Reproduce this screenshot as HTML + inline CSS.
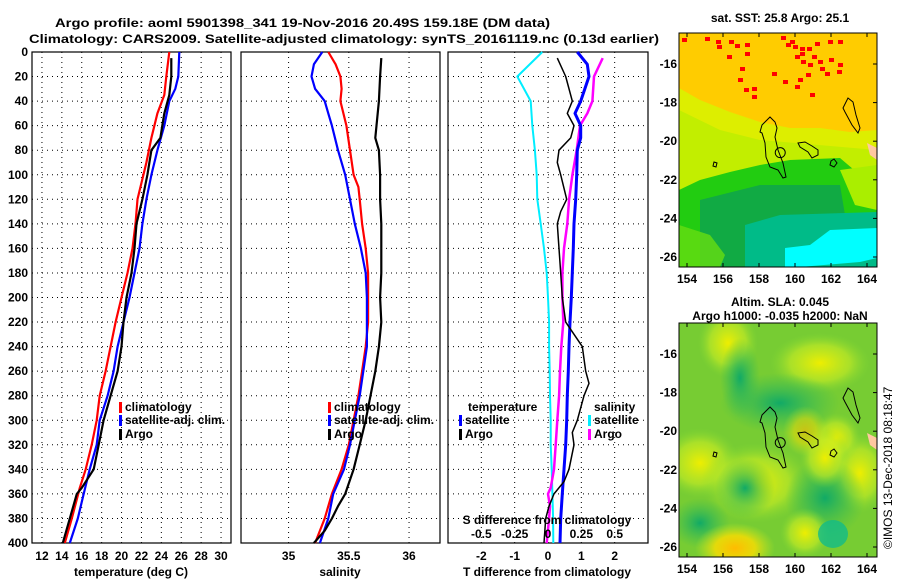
<!DOCTYPE html>
<html><head><meta charset="utf-8"><style>
body{margin:0;background:#fff;}
svg{display:block;font-family:"Liberation Sans",sans-serif;}
text{font-weight:bold;font-size:12px;fill:#000;}
</style></head><body>
<svg id="c" width="900" height="580" viewBox="0 0 900 580" xmlns="http://www.w3.org/2000/svg">
<text x="55" y="27" font-size="14" textLength="495" lengthAdjust="spacingAndGlyphs">Argo profile: aoml 5901398_341 19-Nov-2016 20.49S 159.18E (DM data)</text>
<text x="29" y="43" font-size="14" textLength="630" lengthAdjust="spacingAndGlyphs">Climatology: CARS2009. Satellite-adjusted climatology: synTS_20161119.nc (0.13d earlier)</text>
<g id="maps"></g>
<g id="plots"></g>
<text transform="translate(892,549) rotate(-90)" style="font-weight:normal" font-size="12">©IMOS 13-Dec-2018 08:18:47</text>
</svg>
<script>
// ---------- data ----------
const depthLevels=[0,20,40,60,80,100,120,140,160,180,200,220,240,260,280,300,320,340,360,380,400];
const tempTicks=[12,14,16,18,20,22,24,26,28,30];
const salTicks=[35,35.5,36];
const tdiffTicks=[-2,-1,0,1,2];
const sdiffTicks=[-0.5,-0.25,0,0.25,0.5];
const sdiffTickLabels=["-0.5","-0.25","0","0.25","0.5"];

const tArgoDepth=[5,20,35,50,60,70,80,100,120,140,160,180,200,220,240,260,280,300,320,340,355,360,380,400];
const tArgo=[25.0,25.0,24.8,24.3,24.1,23.9,23.0,22.6,22.1,21.5,21.3,21.0,20.5,20.2,20.0,19.6,18.9,18.2,17.7,17.2,16.0,15.5,14.8,14.1];
const tClimDepth=[0,20,35,50,70,90,120,140,160,180,200,220,240,260,280,300,320,340,355,380,400];
const tClim=[24.8,24.5,24.3,23.6,23.0,22.5,21.6,21.4,21.1,20.6,20.0,19.4,18.9,18.4,17.8,17.5,17.0,16.4,15.8,15.0,14.3];
const tSatDepth=[0,20,30,40,60,80,100,120,140,160,180,200,220,240,260,280,300,320,340,360,380,400];
const tSat=[25.8,25.7,25.4,24.8,24.3,23.6,23.0,22.5,22.1,21.8,21.3,20.8,20.2,19.6,19.2,18.6,17.8,17.5,16.8,16.2,15.6,14.8];

const sClimDepth=[0,10,20,30,40,60,80,100,110,120,140,160,180,200,220,240,260,280,300,320,340,360,380,400];
const sClim=[35.33,35.39,35.43,35.44,35.43,35.48,35.51,35.54,35.58,35.59,35.61,35.64,35.66,35.66,35.66,35.64,35.61,35.58,35.54,35.50,35.44,35.36,35.30,35.22];
const sSatDepth=[0,10,20,30,40,50,60,80,100,120,140,160,180,200,220,240,260,280,300,320,340,360,380,400];
const sSat=[35.28,35.21,35.19,35.22,35.30,35.33,35.36,35.41,35.47,35.51,35.55,35.60,35.64,35.65,35.65,35.65,35.62,35.59,35.55,35.51,35.46,35.37,35.33,35.26];
const sArgoDepth=[5,20,40,60,70,80,100,120,140,160,180,200,220,240,260,280,300,320,340,360,370,380,390,400];
const sArgo=[35.77,35.76,35.75,35.73,35.72,35.75,35.76,35.76,35.77,35.77,35.77,35.76,35.77,35.75,35.72,35.68,35.64,35.59,35.54,35.47,35.41,35.36,35.30,35.21];

const dSsatDepth=[0,20,40,60,80,100,120,140,160,180,200,220,240,260,280,300,320,340,360,380,400];
const dSsat=[-0.043,-0.23,-0.13,-0.118,-0.098,-0.085,-0.08,-0.055,-0.03,-0.01,0,0.008,0.008,0.013,0.015,0.02,0.02,0.028,0.033,0.038,0.04];
const dSargoDepth=[5,20,40,50,60,80,100,120,140,160,180,200,220,240,260,280,300,320,340,355,360,370,380,400];
const dSargo=[0.41,0.345,0.333,0.295,0.24,0.215,0.183,0.158,0.145,0.12,0.108,0.108,0.115,0.1,0.09,0.083,0.07,0.058,0.045,0.02,0,0.015,0.008,-0.01];
const dTsatDepth=[0,10,20,40,50,60,70,80,100,120,140,160,180,200,220,240,260,280,300,320,340,360,380,400];
const dTsat=[0.88,1.18,1.23,0.98,0.81,0.98,0.98,0.88,0.86,0.83,0.78,0.76,0.73,0.70,0.66,0.63,0.61,0.58,0.56,0.53,0.48,0.43,0.38,0.36];
const dTargoDepth=[5,20,40,50,60,70,80,90,100,120,130,140,160,180,200,220,230,240,260,270,280,300,310,320,340,350,360,370,380,400];
const dTargo=[0.28,0.53,0.73,0.58,0.78,0.68,0.33,0.28,0.38,0.56,0.38,0.28,0.33,0.38,0.43,0.53,0.78,1.03,1.13,1.23,1.08,0.88,0.73,0.78,0.63,0.48,0.18,0.03,-0.07,-0.12];

const lonTicks=[154,156,158,160,162,164];
const latTicks=[-16,-18,-20,-22,-24,-26];

// ---------- helpers ----------
const NS="http://www.w3.org/2000/svg";
const plots=document.getElementById('plots');
const maps=document.getElementById('maps');
function mk(tag,attrs,parent){const e=document.createElementNS(NS,tag);for(const k in attrs)e.setAttribute(k,attrs[k]);(parent||plots).appendChild(e);return e;}
const Y0=52,Y1=543;
const yD=d=>Y0+(d/400)*(Y1-Y0);
function scaleX(x0,x1,v0,v1){return v=>x0+(v-v0)/(v1-v0)*(x1-x0);}

const P1={x0:32,x1:231}, P2={x0:241,x1:440}, P3={x0:448,x1:648};
const xT=scaleX(P1.x0,P1.x1,11,31);
const xS=scaleX(P2.x0,P2.x1,34.605,36.257);
const xDT=scaleX(P3.x0,P3.x1,-3,3);
const xDS=v=>xDT(v*4);

function frame(P,name){
  const r=mk('rect',{x:P.x0,y:Y0,width:P.x1-P.x0,height:Y1-Y0,fill:'none',stroke:'#000','stroke-width':1.2});
  
  
  depthLevels.forEach(d=>{
    if(d>0&&d<400){const l=mk('line',{x1:P.x0,x2:P.x1,y1:yD(d),y2:yD(d),stroke:'#000','stroke-dasharray':'1,4'});
    
    }
  });
}
function vgrid(P,vals,sx,labels,name){
  vals.forEach((v,i)=>{
    const x=sx(v);
    const l=mk('line',{x1:x,x2:x,y1:Y0,y2:Y1,stroke:'#000','stroke-dasharray':'1,4'});
    
    
    const t=mk('text',{x:x,y:560,'text-anchor':'middle'});
    t.textContent=labels?labels[i]:String(v);
    
    
  });
}
function line(xs,ds,sx,color,w,name){
  const pts=xs.map((v,i)=>sx(v).toFixed(1)+','+yD(ds[i]).toFixed(1)).join(' ');
  const p=mk('polyline',{points:pts,fill:'none',stroke:color,'stroke-width':w,'stroke-linejoin':'round'});
  
  
}
function label(x,y,txt,name,anchor){
  const t=mk('text',{x:x,y:y,'text-anchor':anchor||'start'});
  t.textContent=txt;
  
  
  return t;
}
function legend(x,y,color,txt,name){
  const r=mk('rect',{x:x,y:y-9,width:3,height:11,fill:color});
  
  
  label(x+6,y,txt,name);
}

// panel 1
frame(P1,'temperature-panel');
vgrid(P1,tempTicks,xT,null,'temperature-tick-label');
depthLevels.forEach(d=>{label(28,yD(d)+4,String(d),'depth-tick-label','end');});
line(tClim,tClimDepth,xT,'#ff0000',2.2,'temperature-climatology-line');
line(tSat,tSatDepth,xT,'#0000ff',2.2,'temperature-satellite-line');
line(tArgo,tArgoDepth,xT,'#000000',2.2,'temperature-argo-line');
label(131,576,'temperature (deg C)','temperature-axis-title','middle');
legend(119,411,'#ff0000','climatology','legend-climatology');
legend(119,424,'#0000ff','satellite-adj. clim.','legend-satellite-adj');
legend(119,438,'#000000','Argo','legend-argo');

// panel 2
frame(P2,'salinity-panel');
vgrid(P2,salTicks,xS,null,'salinity-tick-label');
line(sClim,sClimDepth,xS,'#ff0000',2.2,'salinity-climatology-line');
line(sSat,sSatDepth,xS,'#0000ff',2.2,'salinity-satellite-line');
line(sArgo,sArgoDepth,xS,'#000000',2.2,'salinity-argo-line');
label(340,576,'salinity','salinity-axis-title','middle');
legend(328,411,'#ff0000','climatology','legend-climatology-2');
legend(328,424,'#0000ff','satellite-adj. clim.','legend-satellite-adj-2');
legend(328,438,'#000000','Argo','legend-argo-2');

// panel 3
frame(P3,'difference-panel');
vgrid(P3,tdiffTicks,xDT,null,'tdiff-tick-label');
line(dSsat,dSsatDepth,xDS,'#00eeff',2,'sdiff-satellite-line');
line(dSargo,dSargoDepth,xDS,'#ff00ff',2.5,'sdiff-argo-line');
line(dTsat,dTsatDepth,xDT,'#0000ff',3,'tdiff-satellite-line');
line(dTargo,dTargoDepth,xDT,'#000000',1.5,'tdiff-argo-line');
label(547,576,'T difference from climatology','tdiff-axis-title','middle');
label(547,524,'S difference from climatology','sdiff-axis-title','middle');
sdiffTicks.forEach((v,i)=>label(xDS(v),538,sdiffTickLabels[i],'sdiff-tick-label','middle'));
label(468,411,'temperature','legend-temperature-heading');
legend(459,424,'#0000ff','satellite','legend-t-satellite');
legend(459,438,'#000000','Argo','legend-t-argo');
label(594,411,'salinity','legend-salinity-heading');
legend(588,424,'#00eeff','satellite','legend-s-satellite');
legend(588,438,'#ff00ff','Argo','legend-s-argo');

// ---------- maps ----------
const M={x0:679,x1:877};
const lonX=scaleX(687,867,154,164);
const latY0=scaleX(64,257,-16,-26); // top map
function poly(g,pts,fill,off,name){
  const p=mk('polygon',{points:pts.map(q=>q[0]+','+(q[1]+off)).join(' '),fill:fill,stroke:fill==='none'?'#000':'none','stroke-width':1},g);
  
  
  return p;
}
function mapFrame(top,bottom,name,bgBuilder){
  const g=mk('g',{},maps);
  
  
  const cid='clip'+top;
  const cp=mk('clipPath',{id:cid},g);
  mk('rect',{x:M.x0,y:top,width:M.x1-M.x0,height:bottom-top},cp);
  const inner=mk('g',{'clip-path':'url(#'+cid+')'},g);
  bgBuilder(inner,top);
  const off=top-33;
  poly(inner,[[767,120],[770,117],[775,122],[777,128],[775,137],[778,150],[783,163],[786,177],[783,178],[778,170],[770,167],[766,157],[765,143],[762,133],[760,132],[762,125]],'none',off,'coastline');
  poly(inner,[[798,143],[805,142],[812,146],[818,150],[818,155],[812,158],[808,152],[800,147]],'none',off,'coastline');
  poly(inner,[[848,98],[853,102],[856,115],[860,128],[858,133],[852,125],[845,112],[843,108]],'none',off,'coastline');
  poly(inner,[[831,161],[834,159],[837,163],[834,167],[830,165]],'none',off,'coastline');
  poly(inner,[[714,162],[717,163],[716,167],[713,166]],'none',off,'coastline');
  poly(inner,[[867,143],[877,148],[877,160],[870,155]],'#ffc8a0',off,'land');
  const circ=mk('circle',{cx:lonX(159.18),cy:latY0(-20.49)+off+2,r:5,fill:'none',stroke:'#000'},inner);
  
  
  const fr=mk('rect',{x:M.x0,y:top,width:M.x1-M.x0,height:bottom-top,fill:'none',stroke:'#000'},g);
  
  
  lonTicks.forEach(v=>{
    mk('line',{x1:lonX(v),x2:lonX(v),y1:bottom,y2:bottom-4,stroke:'#000'},g);
    mk('line',{x1:lonX(v),x2:lonX(v),y1:top,y2:top+4,stroke:'#000'},g);
    const t=mk('text',{x:lonX(v),y:bottom+16,'text-anchor':'middle'},g);
    t.textContent=String(v);
    
    
  });
  latTicks.forEach(v=>{
    const y=latY0(v)+off;
    mk('line',{x1:M.x1,x2:M.x1-4,y1:y,y2:y,stroke:'#000'},g);
    const t=mk('text',{x:677,y:y+4,'text-anchor':'end'},g);
    t.textContent=String(v);
    
    
  });
}
mapFrame(33,267,'sst-map',(g,top)=>{
  mk('rect',{x:679,y:top,width:198,height:234,fill:'#ffcc00'},g);
  mk('polygon',{points:'679,88 700,100 730,112 760,122 790,128 820,128 850,132 877,130 877,267 679,267',fill:'#ddee00'},g);
  mk('polygon',{points:'679,110 720,130 760,140 877,150 877,267 679,267',fill:'#bbee00',opacity:0.8},g);
  mk('polygon',{points:'679,190 700,180 730,172 760,165 790,160 840,158 860,175 877,185 877,267 679,267',fill:'#22cc11'},g);
  mk('polygon',{points:'700,200 760,185 840,185 845,215 877,220 877,267 700,267',fill:'#11aa44'},g);
  mk('polygon',{points:'745,225 780,215 877,212 877,267 745,267',fill:'#00bb88'},g);
  mk('polygon',{points:'785,248 810,245 830,230 877,228 877,258 860,262 800,267 785,267',fill:'#00ffff'},g);
  mk('polygon',{points:'840,170 877,165 877,210 855,205',fill:'#aaee00'},g);
  mk('polygon',{points:'679,225 710,235 725,255 720,267 679,267',fill:'#66dd11',opacity:0.8},g);
  const reds=[[682,38],[705,37],[716,40],[717,45],[729,40],[735,44],[745,43],[745,52],[727,55],[740,67],[738,78],[744,88],[752,87],[752,95],[781,36],[786,43],[793,45],[800,47],[807,47],[815,42],[828,40],[838,40],[801,60],[808,63],[818,60],[829,58],[838,63],[806,73],[825,72],[837,70],[798,78],[795,85],[810,93],[820,67],[772,72],[783,80],[795,55],[800,52],[812,55],[790,40]];
  reds.forEach(r=>mk('rect',{x:r[0],y:r[1],width:5,height:4,fill:'#ff0000'},g));
});
label(780,22,'sat. SST: 25.8 Argo: 25.1','sst-map-title','middle');
mapFrame(323,557,'sla-map',(g,top)=>{
  const defs=mk('defs',{},g);
  const rg=mk('radialGradient',{id:'yb'},defs);
  mk('stop',{offset:0,'stop-color':'#eeee00'},rg);
  mk('stop',{offset:0.6,'stop-color':'#ccee22','stop-opacity':0.6},rg);
  mk('stop',{offset:1,'stop-color':'#88dd33','stop-opacity':0},rg);
  const rg2=mk('radialGradient',{id:'gb'},defs);
  mk('stop',{offset:0,'stop-color':'#11aa66'},rg2);
  mk('stop',{offset:1,'stop-color':'#33bb55','stop-opacity':0},rg2);
  const rg3=mk('radialGradient',{id:'ob'},defs);
  mk('stop',{offset:0,'stop-color':'#ffbb00'},rg3);
  mk('stop',{offset:0.5,'stop-color':'#ffdd00','stop-opacity':0.8},rg3);
  mk('stop',{offset:1,'stop-color':'#ccee22','stop-opacity':0},rg3);
  mk('rect',{x:679,y:top,width:198,height:234,fill:'#77cc33'},g);
  [[728,20,30,35],[820,40,50,30],[700,140,40,35],[756,160,55,40],[860,150,30,40],[836,115,25,25]].forEach(b=>mk('ellipse',{cx:b[0],cy:top+b[1],rx:b[2],ry:b[3],fill:'url(#yb)'},g));
  [[745,165,30,30],[825,175,40,40],[700,200,30,25],[780,80,60,30],[740,55,20,40]].forEach(b=>mk('ellipse',{cx:b[0],cy:top+b[1],rx:b[2],ry:b[3],fill:'url(#gb)'},g));
  [[805,210,25,25],[825,135,25,30]].forEach(b=>mk('ellipse',{cx:b[0],cy:top+b[1],rx:b[2],ry:b[3],fill:'url(#yb)'},g));
  mk('ellipse',{cx:735,cy:top+225,rx:40,ry:25,fill:'url(#ob)'},g);
  mk('ellipse',{cx:805,cy:top+108,rx:22,ry:25,fill:'url(#ob)',opacity:0.6},g);
  mk('ellipse',{cx:833,cy:top+211,rx:15,ry:14,fill:'#11bb88',opacity:0.8},g);
});
label(780,306,'Altim. SLA: 0.045','sla-map-title','middle');
label(780,320,'Argo h1000: -0.035 h2000: NaN','sla-map-subtitle','middle');
</script>
</body></html>
